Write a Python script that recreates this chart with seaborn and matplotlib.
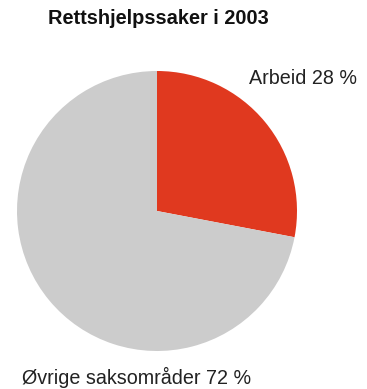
import seaborn as sns
import matplotlib.pyplot as plt

categories = ["Arbeid", "Øvrige saksområder"]
shares = [28, 72]
colors = ["#e0391f", "#cccccc"]

sns.set_theme(style="white")
plt.rcParams['font.family'] = ['Liberation Sans', 'DejaVu Sans']

fig = plt.figure(figsize=(3.67, 3.89), dpi=100)
# pie centered at (157, 211) px with radius 140 px
ax = fig.add_axes([17 / 367, 38 / 389, 280 / 367, 280 / 389])
ax.pie(shares, colors=colors, startangle=90, counterclock=False,
       wedgeprops=dict(linewidth=0))
ax.set_xlim(-1, 1)
ax.set_ylim(-1, 1)
ax.set_aspect('equal')
ax.axis('off')

fig.text(48 / 367, 1 - 18 / 389, "Rettshjelpssaker i 2003", fontsize=14.4,
         fontweight='bold', va='center', ha='left', color='#111111')
fig.text(249 / 367, 1 - 78 / 389, f"{categories[0]} {shares[0]} %", fontsize=14.2,
         va='center', ha='left', color='#222222')
fig.text(22 / 367, 1 - 377 / 389, f"{categories[1]} {shares[1]} %", fontsize=14.2,
         va='center', ha='left', color='#222222')

fig.savefig("out.png", dpi=100)
